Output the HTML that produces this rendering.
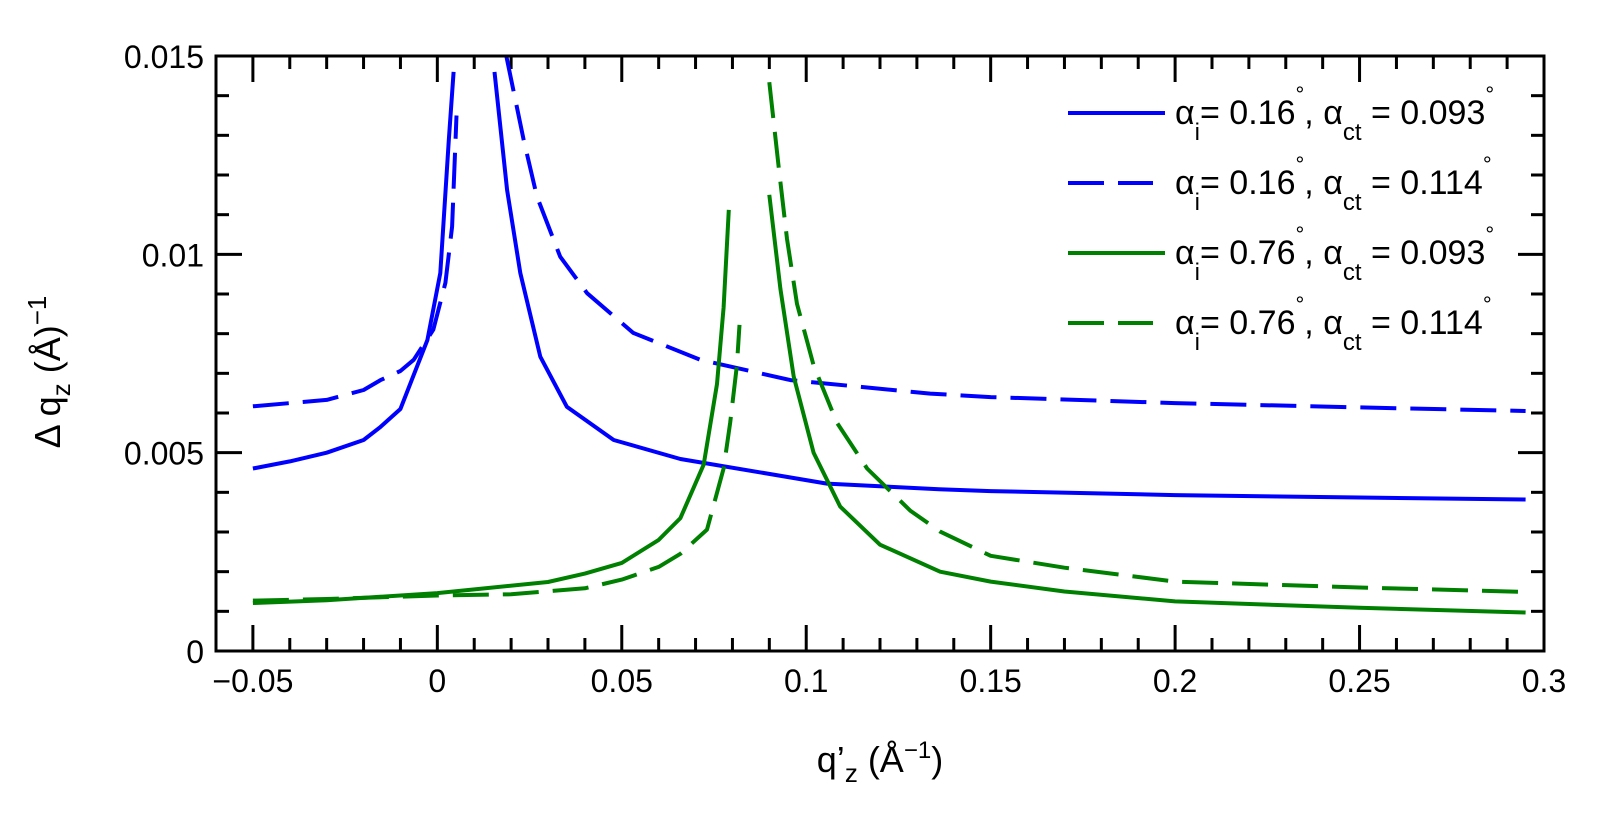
<!DOCTYPE html>
<html><head><meta charset="utf-8"><style>
html,body{margin:0;padding:0;background:#fff;}
svg{display:block;font-family:"Liberation Sans",sans-serif;}
</style></head><body>
<svg id="chart" width="1612" height="816" viewBox="0 0 1612 816" xmlns="http://www.w3.org/2000/svg">
<g id="grid-ticks"></g>
<g id="series"></g>
<rect x="216" y="56" width="1328" height="595" fill="none" stroke="#000" stroke-width="3"/>
<g id="ticklabels" font-size="32" fill="#000"></g>
<text x="880" y="772" font-size="36" text-anchor="middle">q’<tspan font-size="26" dy="10">z</tspan><tspan dy="-10"> (Å</tspan><tspan font-size="24" dy="-14">−1</tspan><tspan dy="14">)</tspan></text>
<text transform="translate(60,372) rotate(-90)" font-size="36" text-anchor="middle">Δ q<tspan font-size="26" dy="10">z</tspan><tspan dy="-10">  (Å)</tspan><tspan font-size="26" dy="-14">−1</tspan></text>
<g id="legend"></g>
</svg>
<script>
const xTicks = [-0.05, 0, 0.05, 0.1, 0.15, 0.2, 0.25, 0.3];
const xTickLabels = ["−0.05", "0", "0.05", "0.1", "0.15", "0.2", "0.25", "0.3"];
const yTicks = [0, 0.005, 0.01, 0.015];
const yTickLabels = ["0", "0.005", "0.01", "0.015"];

const blueSolidLeftX = [-0.05, -0.04, -0.03, -0.02, -0.0154, -0.01, -0.0027, 0.0008, 0.0031, 0.0044];
const blueSolidLeftY = [0.00460, 0.00478, 0.00500, 0.00532, 0.00565, 0.0061, 0.00784, 0.00953, 0.01288, 0.0146];
const blueSolidRightX = [0.0155, 0.0189, 0.0225, 0.0279, 0.0351, 0.0478, 0.0659, 0.1056, 0.136, 0.15, 0.2, 0.25, 0.295];
const blueSolidRightY = [0.0146, 0.01162, 0.00953, 0.00742, 0.00616, 0.00532, 0.00484, 0.00422, 0.00408, 0.00403, 0.00393, 0.00387, 0.00382];

const blueDashLeftX = [-0.05, -0.03, -0.02, -0.0154, -0.01, -0.0064, -0.0011, 0.0022, 0.004, 0.0052];
const blueDashLeftY = [0.00617, 0.00633, 0.00658, 0.00683, 0.00706, 0.00734, 0.0081, 0.00928, 0.0107, 0.0135];
const blueDashRightX = [0.0187, 0.0234, 0.027, 0.0333, 0.0406, 0.0531, 0.0713, 0.0957, 0.1336, 0.15, 0.2, 0.25, 0.295];
const blueDashRightY = [0.015, 0.01288, 0.01146, 0.00994, 0.00902, 0.00802, 0.00734, 0.00683, 0.00649, 0.0064, 0.00625, 0.00614, 0.00605];

const greenSolidLeftX = [-0.05, -0.03, 0, 0.03, 0.04, 0.05, 0.06, 0.0659, 0.0722, 0.0758, 0.0776, 0.079];
const greenSolidLeftY = [0.00121, 0.00128, 0.00146, 0.00174, 0.00195, 0.00222, 0.0028, 0.00335, 0.0047, 0.00673, 0.00866, 0.01112];
const greenSolidRightX = [0.09, 0.093, 0.0966, 0.102, 0.1092, 0.12, 0.1363, 0.15, 0.17, 0.2, 0.25, 0.295];
const greenSolidRightY = [0.0115, 0.00913, 0.00692, 0.005, 0.00364, 0.00268, 0.002, 0.00175, 0.0015, 0.00125, 0.00109, 0.00097];

const greenDashLeftX = [-0.05, -0.03, 0, 0.02, 0.04, 0.05, 0.06, 0.0659, 0.0731, 0.0776, 0.0794, 0.0812, 0.0819];
const greenDashLeftY = [0.00127, 0.00131, 0.0014, 0.00143, 0.00158, 0.0018, 0.00212, 0.00245, 0.00306, 0.0046, 0.00576, 0.0072, 0.00822];
const greenDashRightX = [0.09, 0.0925, 0.0948, 0.0975, 0.102, 0.1083, 0.1165, 0.1282, 0.1363, 0.15, 0.17, 0.2, 0.25, 0.295];
const greenDashRightY = [0.01434, 0.01222, 0.01039, 0.00875, 0.0072, 0.00576, 0.0046, 0.00354, 0.00301, 0.0024, 0.0021, 0.00175, 0.0016, 0.00149];

const NS = "http://www.w3.org/2000/svg";
const L = 216, R = 1544, T = 56, B = 651;
const xMin = -0.06, xMax = 0.3, yMin = 0, yMax = 0.015;
function sx(v){ return L + (v - xMin) / (xMax - xMin) * (R - L); }
function sy(v){ return B - (v - yMin) / (yMax - yMin) * (B - T); }

function line(parent, x1, y1, x2, y2, w){
  const l = document.createElementNS(NS, "line");
  l.setAttribute("x1", x1); l.setAttribute("y1", y1);
  l.setAttribute("x2", x2); l.setAttribute("y2", y2);
  l.setAttribute("stroke", "#000"); l.setAttribute("stroke-width", w);
  parent.appendChild(l);
  return l;
}

const tg = document.getElementById("grid-ticks");
// x ticks (minor every 0.01)
for (let i = -5; i <= 30; i++) {
  const v = i / 100, X = sx(v);
  const major = (i % 5 === 0);
  const len = major ? 26 : 13;
  const t1 = line(tg, X, B, X, B - len, 3);
  
  
  const t2 = line(tg, X, T, X, T + len, 3);
  
  
}
// y ticks (minor every 0.001)
for (let i = 1; i < 15; i++) {
  const v = i / 1000, Y = sy(v);
  const major = (i % 5 === 0);
  const len = major ? 26 : 13;
  const t1 = line(tg, L, Y, L + len, Y, 3);
  
  
  const t2 = line(tg, R, Y, R - len, Y, 3);
  
  
}

const lg = document.getElementById("ticklabels");
xTicks.forEach((v, i) => {
  const t = document.createElementNS(NS, "text");
  
  
  t.setAttribute("x", sx(v)); t.setAttribute("y", 692);
  t.setAttribute("text-anchor", "middle");
  t.textContent = xTickLabels[i];
  lg.appendChild(t);
});
yTicks.forEach((v, i) => {
  const t = document.createElementNS(NS, "text");
  
  
  t.setAttribute("x", 204); t.setAttribute("y", sy(v) + 12);
  t.setAttribute("text-anchor", "end");
  t.textContent = yTickLabels[i];
  lg.appendChild(t);
});

const sg = document.getElementById("series");
function path(xs, ys, color, dashed, name){
  const p = document.createElementNS(NS, "path");
  
  
  let d = "";
  xs.forEach((x, i) => { d += (i ? "L" : "M") + sx(x).toFixed(1) + "," + sy(ys[i]).toFixed(1); });
  p.setAttribute("d", d);
  p.setAttribute("fill", "none");
  p.setAttribute("stroke", color);
  p.setAttribute("stroke-width", 4);
  p.setAttribute("stroke-linejoin", "round");
  if (dashed) p.setAttribute("stroke-dasharray", "36 14");
  sg.appendChild(p);
}
const BLUE = "#0000ff", GREEN = "#008000";
path(blueSolidLeftX, blueSolidLeftY, BLUE, false, "series-016-0093-left");
path(blueSolidRightX, blueSolidRightY, BLUE, false, "series-016-0093-right");
path(blueDashLeftX, blueDashLeftY, BLUE, true, "series-016-0114-left");
path(blueDashRightX, blueDashRightY, BLUE, true, "series-016-0114-right");
path(greenSolidLeftX, greenSolidLeftY, GREEN, false, "series-076-0093-left");
path(greenSolidRightX, greenSolidRightY, GREEN, false, "series-076-0093-right");
path(greenDashLeftX, greenDashLeftY, GREEN, true, "series-076-0114-left");
path(greenDashRightX, greenDashRightY, GREEN, true, "series-076-0114-right");

// legend
const legAi = ["0.16", "0.16", "0.76", "0.76"];
const legAct = ["0.093", "0.114", "0.093", "0.114"];
const legColor = [BLUE, BLUE, GREEN, GREEN];
const legDash = [false, true, false, true];
const lgg = document.getElementById("legend");
for (let i = 0; i < 4; i++) {
  const y = 113 + i * 70;
  const g = document.createElementNS(NS, "g");
  
  
  const l = line(g, 1068, y, legDash[i] ? 1153 : 1165, y, 4);
  l.setAttribute("stroke", legColor[i]);
  if (legDash[i]) l.setAttribute("stroke-dasharray", "36 14");
  const t = document.createElementNS(NS, "text");
  t.setAttribute("x", 1175); t.setAttribute("y", y + 11);
  t.setAttribute("font-size", "34");
  t.innerHTML = 'α<tspan font-size="24" dy="16">i</tspan><tspan dy="-16">= ' + legAi[i] +
    '</tspan><tspan font-size="22" dy="-22">°</tspan><tspan dy="22">, α</tspan><tspan font-size="24" dy="16">ct</tspan><tspan dy="-16"> = ' +
    legAct[i] + '</tspan><tspan font-size="22" dy="-22">°</tspan>';
  g.appendChild(t);
  lgg.appendChild(g);
}
</script>
</body></html>
